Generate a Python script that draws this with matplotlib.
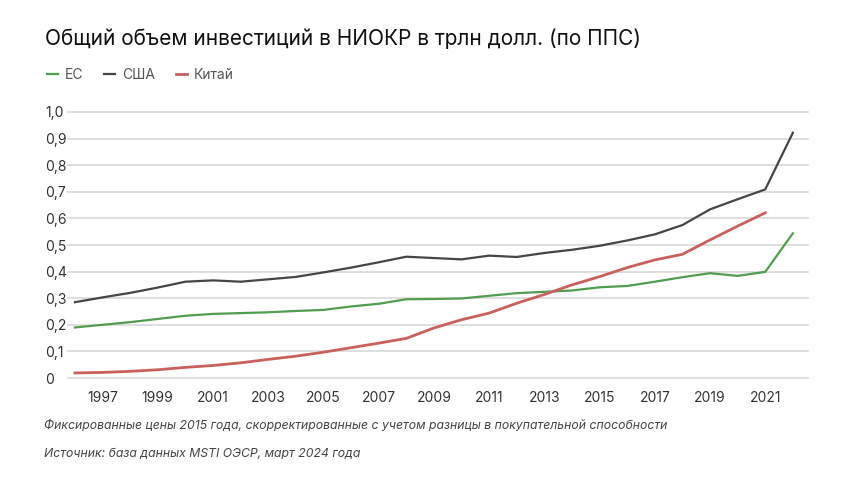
import numpy as np
import matplotlib
matplotlib.use("Agg")
import matplotlib.pyplot as plt

plt.rcParams['font.family'] = ['Inter', 'DejaVu Sans']

# Данные (трлн долл., ППС, цены 2015 г.)
years = list(range(1996, 2023))
eu = [0.190, 0.200, 0.210, 0.222, 0.234, 0.241, 0.244, 0.247, 0.252, 0.256,
      0.269, 0.279, 0.296, 0.297, 0.299, 0.309, 0.319, 0.324, 0.329, 0.341,
      0.346, 0.362, 0.379, 0.394, 0.384, 0.399, 0.544]
usa = [0.285, 0.303, 0.320, 0.340, 0.362, 0.367, 0.362, 0.371, 0.380, 0.397,
       0.415, 0.435, 0.456, 0.451, 0.446, 0.460, 0.455, 0.470, 0.482, 0.497,
       0.517, 0.540, 0.575, 0.634, 0.672, 0.709, 0.922]
china_years = list(range(1996, 2022))
china = [0.019, 0.021, 0.025, 0.031, 0.040, 0.047, 0.057, 0.070, 0.082, 0.097,
         0.114, 0.131, 0.149, 0.188, 0.219, 0.244, 0.281, 0.314, 0.350, 0.381,
         0.415, 0.444, 0.465, 0.519, 0.571, 0.621]

xticks = list(range(1997, 2022, 2))
yticks = [0, 0.1, 0.2, 0.3, 0.4, 0.5, 0.6, 0.7, 0.8, 0.9, 1.0]
ytick_labels = ['0', '0,1', '0,2', '0,3', '0,4', '0,5', '0,6', '0,7', '0,8', '0,9', '1,0']

fig = plt.figure(figsize=(8.6, 4.84), dpi=100)
ax = fig.add_axes([0.0791, 0.219, 0.8605, 0.5496])

ax.plot(years, eu, color='#4f9d4f', lw=1.6, label='ЕС')
ax.plot(years, usa, color='#454545', lw=1.6, label='США')
ax.plot(china_years, china, color='#c9605c', lw=2.0, label='Китай')

ax.set_xlim(1995.75, 2022.55)
ax.set_ylim(0, 1.0)
ax.set_xticks(xticks)
ax.set_yticks(yticks)
ax.set_yticklabels(ytick_labels)
ax.grid(axis='y', color='#d9d9d9', lw=1.2)
ax.set_axisbelow(True)
for gl in ax.get_ygridlines():
    gl.set_clip_on(False)
for s in ax.spines.values():
    s.set_visible(False)
ax.tick_params(axis='both', length=0, labelsize=10, colors='#333333')
ax.tick_params(axis='x', pad=9)
ax.tick_params(axis='y', pad=16.5)
for lab in ax.get_yticklabels():
    lab.set_ha('left')

fig.text(0.052, 0.92, 'Общий объем инвестиций в НИОКР в трлн долл. (по ППС)',
         fontsize=15, color='#111111', va='center', ha='left')

leg = ax.legend(loc='center left', bbox_to_anchor=(0.048, 0.845),
                bbox_transform=fig.transFigure, ncol=3, frameon=False,
                fontsize=10, handlelength=0.8, handletextpad=0.5,
                columnspacing=1.5, labelcolor='#555555', borderaxespad=0)

fig.text(0.051, 0.12,
         'Фиксированные цены 2015 года, скорректированные с учетом разницы в покупательной способности',
         fontsize=8.8, style='italic', color='#444444', va='center', ha='left')
fig.text(0.051, 0.062, 'Источник: база данных MSTI ОЭСР, март 2024 года',
         fontsize=8.8, style='italic', color='#444444', va='center', ha='left')

fig.savefig('out.png', dpi=100)
